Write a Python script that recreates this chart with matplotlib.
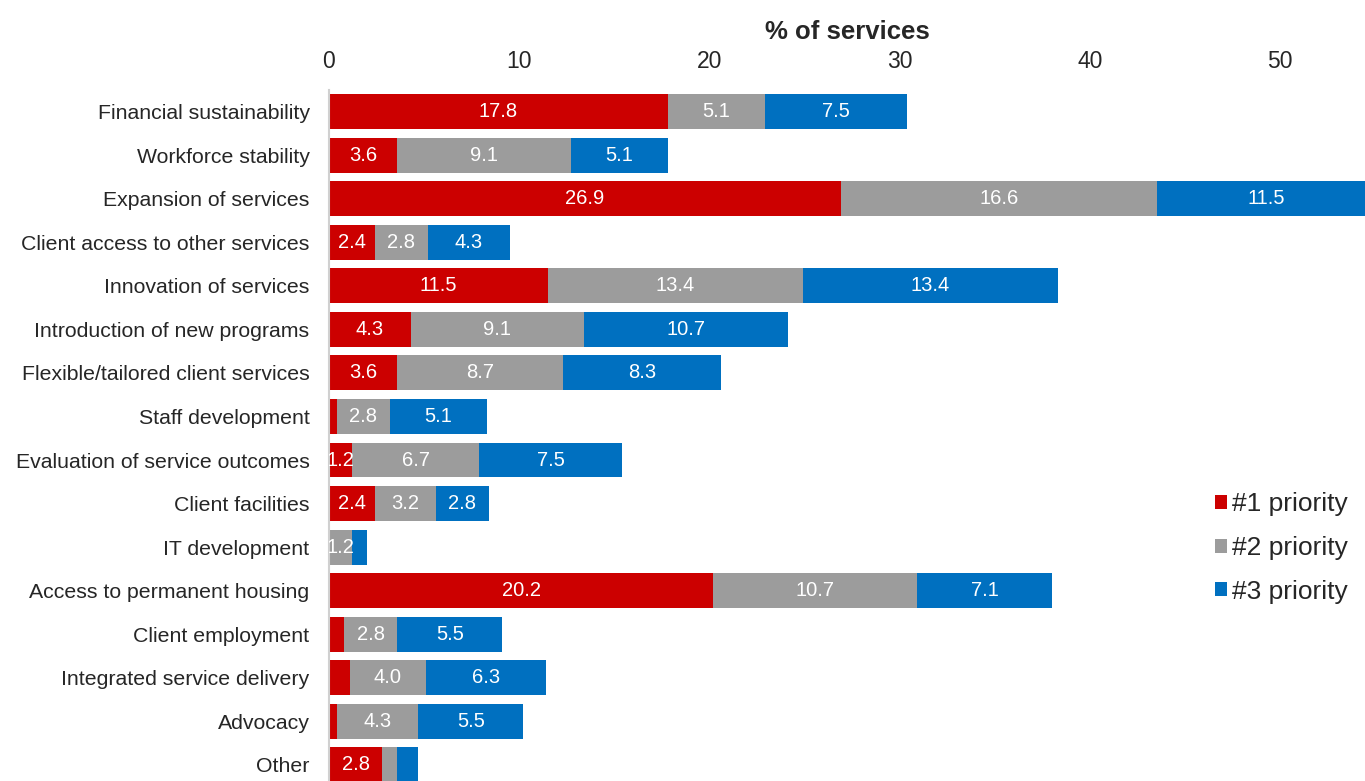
# stacked priority shares per service area

import matplotlib.pyplot as plt

categories = ["Financial sustainability", "Workforce stability", "Expansion of services",
              "Client access to other services", "Innovation of services",
              "Introduction of new programs", "Flexible/tailored client services",
              "Staff development", "Evaluation of service outcomes", "Client facilities",
              "IT development", "Access to permanent housing", "Client employment",
              "Integrated service delivery", "Advocacy", "Other"]

priority1 = [17.8, 3.6, 26.9, 2.4, 11.5, 4.3, 3.6, 0.4, 1.2, 2.4, 0.0, 20.2, 0.8, 1.1, 0.4, 2.8]
priority2 = [5.1, 9.1, 16.6, 2.8, 13.4, 9.1, 8.7, 2.8, 6.7, 3.2, 1.2, 10.7, 2.8, 4.0, 4.3, 0.8]
priority3 = [7.5, 5.1, 11.5, 4.3, 13.4, 10.7, 8.3, 5.1, 7.5, 2.8, 0.8, 7.1, 5.5, 6.3, 5.5, 1.1]

series = [("#1 priority", priority1, "#cc0000"),
          ("#2 priority", priority2, "#9c9c9c"),
          ("#3 priority", priority3, "#0070c0")]

plt.rcParams['font.family'] = ['Liberation Sans', 'DejaVu Sans']
dark = "#262626"

fig = plt.figure(figsize=(13.65, 7.81), dpi=100)
ax = fig.add_axes([0.241, 0.0, 0.759, 0.885])

ypos = list(range(len(categories)))
left = [0.0] * len(categories)
for name, vals, color in series:
    ax.barh(ypos, vals, left=left, height=0.8, color=color, label=name)
    for i, v in enumerate(vals):
        if v >= 1.2:
            ax.text(left[i] + v / 2, i, "%.1f" % v, ha="center", va="center",
                    color="white", fontsize=14.5, clip_on=True)
    left = [a + b for a, b in zip(left, vals)]

ax.set_xlim(0, 54.45)
ax.set_ylim(15.37, -0.5)
ax.set_yticks(ypos)
ax.set_yticklabels(categories, fontsize=15.3, color=dark)
ax.xaxis.tick_top()
ax.xaxis.set_label_position("top")
ax.set_xticks([0, 10, 20, 30, 40, 50])
ax.tick_params(axis="x", labelsize=16.5, labelcolor=dark, length=0, pad=12)
ax.tick_params(axis="y", length=0, pad=14)
ax.set_xlabel("% of services", fontsize=18.5, fontweight="bold", color=dark, labelpad=8)

for s in ["top", "right", "bottom"]:
    ax.spines[s].set_visible(False)
ax.spines["left"].set_color("#d0d0d0")
ax.spines["left"].set_linewidth(1.5)

leg = ax.legend(loc="center left", bbox_to_anchor=(0.890, 0.2983),
                bbox_transform=fig.transFigure, frameon=False, fontsize=19,
                handlelength=0.45, handleheight=0.45, handletextpad=0.2,
                labelspacing=0.74, borderpad=0, borderaxespad=0)
for t in leg.get_texts():
    t.set_color(dark)

fig.savefig("out.png", dpi=100)
